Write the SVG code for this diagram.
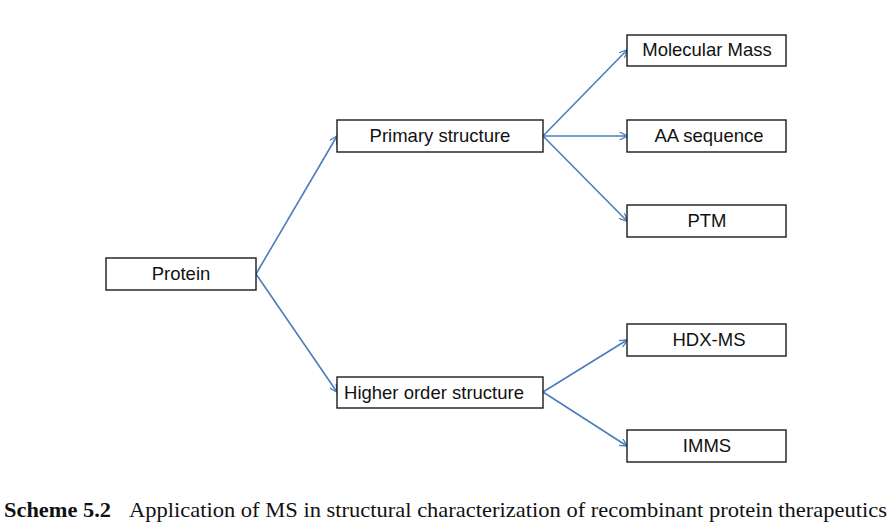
<svg xmlns="http://www.w3.org/2000/svg" width="895" height="529" viewBox="0 0 895 529">
<defs>
<style>
.box{fill:#fff;stroke:#1a1a1a;stroke-width:1.4}
.lbl{font-family:"Liberation Sans",Arial,sans-serif;font-size:18.5px;fill:#111;text-anchor:middle}
.con{stroke:#4a7ebb;stroke-width:1.6;fill:none;marker-end:url(#ah)}
.cap{font-family:"Liberation Serif","Times New Roman",serif;font-size:21px;fill:#111}
</style>
<marker id="ah" viewBox="0 0 10 10" refX="9.5" refY="5" markerWidth="8" markerHeight="8" orient="auto" markerUnits="userSpaceOnUse">
<path d="M0,0 L10,5 L0,10" fill="none" stroke="#4a7ebb" stroke-width="1.6"/>
</marker>
</defs>
<rect width="895" height="529" fill="#fff"/>
<g id="connectors">
<line class="con" x1="256" y1="274" x2="337" y2="136"/>
<line class="con" x1="256" y1="274" x2="337" y2="392"/>
<line class="con" x1="543" y1="136" x2="627" y2="50"/>
<line class="con" x1="543" y1="136" x2="627" y2="136"/>
<line class="con" x1="543" y1="136" x2="627" y2="221"/>
<line class="con" x1="543" y1="392" x2="627" y2="340"/>
<line class="con" x1="543" y1="392" x2="627" y2="446"/>
</g>
<g id="protein"><rect class="box" x="106" y="258" width="150" height="32"/><text class="lbl" x="181" y="280">Protein</text></g>
<g id="primary"><rect class="box" x="337" y="120" width="206" height="32"/><text class="lbl" x="440" y="142">Primary structure</text></g>
<g id="higher"><rect class="box" x="337" y="377" width="206" height="31"/><text class="lbl" x="434" y="399">Higher order structure</text></g>
<g id="molmass"><rect class="box" x="627" y="35" width="159" height="31"/><text class="lbl" x="707" y="56">Molecular Mass</text></g>
<g id="aaseq"><rect class="box" x="627" y="120" width="159" height="32"/><text class="lbl" x="709" y="142">AA sequence</text></g>
<g id="ptm"><rect class="box" x="627" y="205" width="159" height="32"/><text class="lbl" x="707" y="227">PTM</text></g>
<g id="hdx"><rect class="box" x="627" y="324" width="159" height="32"/><text class="lbl" x="709" y="346">HDX-MS</text></g>
<g id="imms"><rect class="box" x="627" y="430" width="159" height="32"/><text class="lbl" x="707" y="452">IMMS</text></g>
<g id="caption">
<text class="cap" x="4" y="517" font-weight="bold" textLength="107" lengthAdjust="spacingAndGlyphs">Scheme 5.2</text>
<text class="cap" x="129" y="517" textLength="758" lengthAdjust="spacingAndGlyphs">Application of MS in structural characterization of recombinant protein therapeutics</text>
</g>
</svg>
